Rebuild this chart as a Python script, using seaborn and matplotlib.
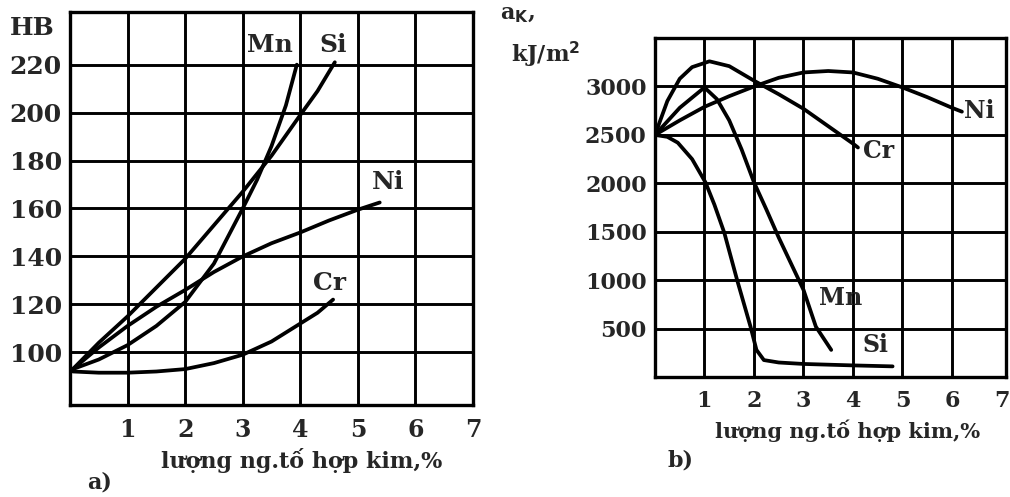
import matplotlib
matplotlib.use("Agg")
import matplotlib.pyplot as plt
import seaborn as sns
import pandas as pd

sns.set_style("white")
plt.rcParams["font.family"] = ["DejaVu Serif"]
plt.rcParams["font.weight"] = "bold"

# ---- panel a): hardness HB vs alloying content (%) ----
hb_si_x = [0.05, 0.5, 1, 1.5, 2, 2.5, 3, 3.5, 4, 4.3, 4.6]
hb_si_y = [93, 104, 115, 127, 139, 153, 167, 182, 199, 209, 221]
hb_mn_x = [0.05, 0.5, 1, 1.5, 2, 2.5, 3, 3.25, 3.5, 3.75, 3.94]
hb_mn_y = [93, 97, 103, 111, 121, 137, 160, 172, 186, 203, 220]
hb_ni_x = [0.05, 0.5, 1, 1.5, 2, 2.5, 3, 3.5, 4, 4.5, 5, 5.38]
hb_ni_y = [93, 102, 111, 119, 126, 133.5, 140, 145.5, 150, 155, 159.5, 162.5]
hb_cr_x = [0.05, 0.5, 1, 1.5, 2, 2.5, 3, 3.5, 4, 4.3, 4.57]
hb_cr_y = [92, 91.5, 91.5, 92, 93, 95.5, 99, 104.5, 112, 116.5, 122]

# ---- panel b): impact toughness aK (kJ/m2) vs alloying content (%) ----
ak_cr_x = [0, 0.25, 0.5, 0.75, 1.1, 1.5, 2, 2.5, 3, 3.5, 4, 4.1]
ak_cr_y = [2500, 2850, 3080, 3200, 3260, 3210, 3060, 2920, 2770, 2590, 2410, 2370]
ak_mn_x = [0, 0.5, 1, 1.25, 1.5, 1.75, 2, 2.25, 2.5, 2.75, 3, 3.25, 3.56]
ak_mn_y = [2500, 2780, 2990, 2870, 2650, 2350, 2010, 1730, 1440, 1170, 900, 520, 280]
ak_ni_x = [0, 0.5, 1, 1.5, 2, 2.5, 3, 3.5, 4, 4.5, 5, 5.5, 6, 6.2]
ak_ni_y = [2500, 2650, 2790, 2900, 3000, 3090, 3145, 3160, 3145, 3080, 2990, 2890, 2780, 2740]
ak_si_x = [0, 0.25, 0.46, 0.75, 1.02, 1.2, 1.4, 1.66, 1.93, 2.05, 2.2, 2.5, 3, 4, 4.8]
ak_si_y = [2500, 2480, 2420, 2250, 2010, 1780, 1490, 1000, 520, 280, 175, 150, 135, 120, 110]

x_ticks = [1, 2, 3, 4, 5, 6, 7]
hb_ticks = [100, 120, 140, 160, 180, 200, 220]
ak_ticks = [500, 1000, 1500, 2000, 2500, 3000]
x_label = "lượng ng.tố hợp kim,%"


def long_frame(series):
    rows = []
    for name, xs, ys in series:
        for xv, yv in zip(xs, ys):
            rows.append({"elem": name, "x": xv, "y": yv})
    return pd.DataFrame(rows)


df_a = long_frame([("Si", hb_si_x, hb_si_y), ("Mn", hb_mn_x, hb_mn_y),
                   ("Ni", hb_ni_x, hb_ni_y), ("Cr", hb_cr_x, hb_cr_y)])
df_b = long_frame([("Cr", ak_cr_x, ak_cr_y), ("Mn", ak_mn_x, ak_mn_y),
                   ("Ni", ak_ni_x, ak_ni_y), ("Si", ak_si_x, ak_si_y)])

black = {k: "black" for k in ["Si", "Mn", "Ni", "Cr"]}

fig = plt.figure(figsize=(10.1, 4.97), dpi=100)
ax1 = fig.add_axes([0.0693, 0.185, 0.399, 0.791])
ax2 = fig.add_axes([0.6485, 0.2414, 0.3475, 0.682])

grid_kw = dict(color="black", linewidth=2.1, zorder=1)

for ax, df, xlim, ylim, yticks in [(ax1, df_a, (0, 7), (78, 242), hb_ticks),
                                   (ax2, df_b, (0, 7.09), (0, 3500), ak_ticks)]:
    ax.set_xlim(*xlim)
    ax.set_ylim(*ylim)
    for xv in x_ticks[:-1]:
        ax.axvline(xv, **grid_kw)
    for yv in yticks:
        ax.axhline(yv, **grid_kw)
    sns.lineplot(data=df, x="x", y="y", hue="elem", palette=black,
                 estimator=None, sort=False, legend=False,
                 linewidth=2.7, ax=ax, zorder=3)
    ax.set_xticks(x_ticks)
    ax.set_yticks(yticks)
    ax.tick_params(length=0)
    for s in ax.spines.values():
        s.set_visible(True)
        s.set_color("black")
        s.set_linewidth(2.4)
    ax.set_ylabel("")

# panel a text
ax1.tick_params(axis="y", labelsize=18, pad=6)
ax1.tick_params(axis="x", labelsize=17, pad=9)
ax1.set_xlabel(x_label, fontsize=16, fontweight="bold")
ax1.xaxis.set_label_coords(0.576, -0.11)
lab = dict(fontsize=18, fontweight="bold", ha="center", va="center", zorder=5)
ax1.text(3.47, 228, "Mn", **lab)
ax1.text(4.57, 228, "Si", **lab)
ax1.text(5.52, 171, "Ni", **lab)
ax1.text(4.51, 129, "Cr", **lab)
fig.text(10 / 1010, 1 - 28 / 497, "HB", fontsize=18, fontweight="bold",
         ha="left", va="center")
fig.text(100 / 1010, 1 - 482 / 497, "a)", fontsize=16, fontweight="bold",
         ha="center", va="center")

# panel b text
ax2.tick_params(axis="y", labelsize=16, pad=6)
ax2.tick_params(axis="x", labelsize=16, pad=9)
ax2.set_xlabel(x_label, fontsize=15, fontweight="bold")
ax2.xaxis.set_label_coords(0.55, -0.125)
lab2 = dict(fontsize=17, fontweight="bold", ha="center", va="center", zorder=5)
ax2.text(6.56, 2743, "Ni", **lab2)
ax2.text(4.52, 2329, "Cr", **lab2)
ax2.text(3.76, 818, "Mn", **lab2)
ax2.text(4.46, 331, "Si", **lab2)
fig.text(517 / 1010, 1 - 14 / 497, r"a$_{\mathbf{K}}$,", fontsize=16,
         fontweight="bold", ha="center", va="center")
fig.text(546 / 1010, 1 - 55 / 497, r"kJ/m$^{\mathbf{2}}$", fontsize=16,
         fontweight="bold", ha="center", va="center")
fig.text(680 / 1010, 1 - 460 / 497, "b)", fontsize=16, fontweight="bold",
         ha="center", va="center")

fig.savefig("out.png", dpi=100)
